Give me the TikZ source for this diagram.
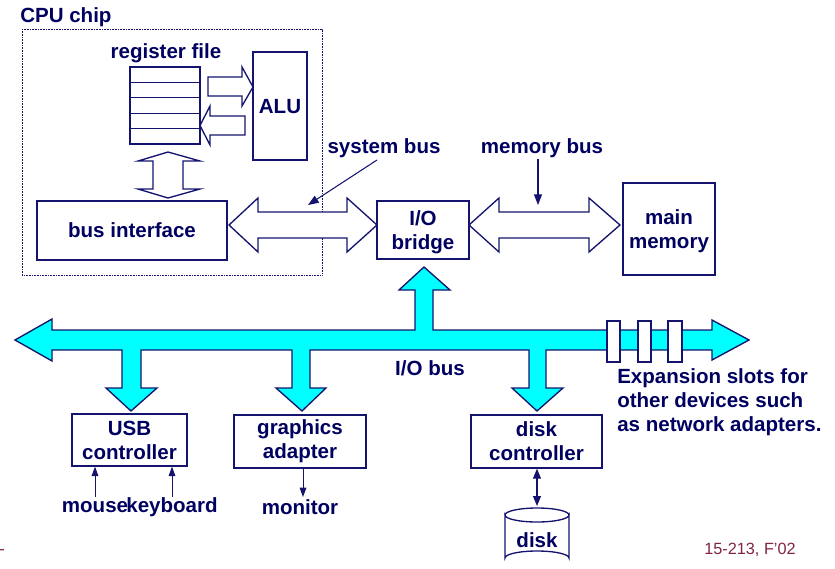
\documentclass[tikz,border=0pt]{standalone}
\usepackage{fontspec}
\setmainfont{Liberation Sans}
\usetikzlibrary{arrows.meta}
\definecolor{navy}{RGB}{0,0,96}
\definecolor{busline}{RGB}{20,20,110}
\definecolor{iocyan}{RGB}{0,255,255}
\definecolor{slidered}{RGB}{128,36,72}
\begin{document}
\begin{tikzpicture}[x=0.75pt,y=-0.75pt,
  lbl/.style={text=navy,font=\bfseries\fontsize{15.4}{18}\selectfont,inner sep=0pt,align=center},
  box/.style={draw=busline,line width=1pt,fill=white,text=navy,align=center,inner sep=0pt,font=\bfseries\fontsize{15.4}{18}\selectfont},
  fat/.style={draw=busline,line width=1pt,fill=white},
  iobus/.style={draw=busline,line width=1pt,fill=iocyan},
  slot/.style={draw=busline,line width=0.8pt,fill=white},
  pointer/.style={draw=busline,line width=0.8pt,-{Triangle[length=8pt,width=6pt]}},
  thinarrow/.style={draw=busline,line width=0.7pt,-{Triangle[length=7pt,width=5pt]}},
  footer/.style={text=slidered,font=\fontsize{12.2}{14}\selectfont,inner sep=0pt},
]
\useasboundingbox (0,0) rectangle (835,568);

% CPU chip boundary
\draw[busline,line width=0.5pt,dash pattern=on 0.6pt off 0.6pt] (22,29) rectangle (322,275);
\node[lbl,anchor=base west] (cpu) at (20,22) {CPU chip};

% register file
\node[lbl,anchor=base] (reglbl) at (166,58) {register file};
\draw[busline,line width=1pt,fill=white] (130,67) rectangle (200,144);
\foreach \yy in {82.4,97.8,113.2,128.6}
  \draw[busline,line width=1pt] (130,\yy) -- (200,\yy);
\coordinate (regfile) at (165,105.5);

% ALU
\node[box,minimum width=40.5pt,minimum height=81pt] (alu) at (280,106) {};
\node[lbl,anchor=base] (alutext) at (280,113) {ALU};

% fat arrows inside CPU
\draw[fat] (208,77) -- (242,77) -- (242,67) -- (253,87) -- (242,106) -- (242,96) -- (208,96) -- cycle;
\draw[fat] (245,116) -- (210,116) -- (210,106) -- (200,125.5) -- (210,145) -- (210,135) -- (245,135) -- cycle;
\draw[fat] (168,152) -- (200,161) -- (183,161) -- (183,189) -- (200,189) -- (168,198)
  -- (138,189) -- (153,189) -- (153,161) -- (138,161) -- cycle;

% bus interface
\node[box,minimum width=142.5pt,minimum height=44.25pt] (busif) at (132,230.5) {};
\node[lbl,anchor=base] (busiftext) at (132,237) {bus interface};

% system bus
\draw[fat] (229,225) -- (258,198) -- (258,212) -- (347,212) -- (347,198) -- (377,225)
  -- (347,252) -- (347,238) -- (258,238) -- (258,252) -- cycle;
% memory bus
\draw[fat] (469,225) -- (499,198) -- (499,212) -- (589,212) -- (589,198) -- (620,225)
  -- (589,252) -- (589,238) -- (499,238) -- (499,252) -- cycle;

% I/O bridge and main memory
\node[box,minimum width=69pt,minimum height=43.5pt] (bridge) at (423,230) {};
\node[lbl,anchor=base] (bridgetext) at (423,249) {I/O\\bridge};
\node[box,minimum width=69pt,minimum height=69pt] (mainmem) at (669,229) {};
\node[lbl,anchor=base] (memtext) at (669,248) {main\\memory};

% bus labels and pointers
\node[lbl,anchor=base] (sysbus) at (384,153) {system bus};
\node[lbl,anchor=base] (membus) at (542,153) {memory bus};
\coordinate (sbtail) at (377,160);
\coordinate (sbtip) at (308,205);
\coordinate (mbtail) at (538,159);
\coordinate (mbtip) at (538,205);
\draw[pointer] (sbtail) -- (sbtip);
\draw[pointer] (mbtail) -- (mbtip);

% I/O bus
\draw[iobus] (15,340) -- (52,319) -- (52,330) -- (415,330) -- (415,290) -- (399,290) -- (424,267)
  -- (450,290) -- (433,290) -- (433,330) -- (712,330) -- (712,320) -- (749,340) -- (712,360)
  -- (712,350) -- (546,350) -- (546,388) -- (563,388) -- (537,411) -- (512,388) -- (529,388)
  -- (529,350) -- (310,350) -- (310,388) -- (326,388) -- (302,411) -- (276,388) -- (292,388)
  -- (292,350) -- (141,350) -- (141,388) -- (157,388) -- (131,411) -- (106,388) -- (122,388)
  -- (122,350) -- (52,350) -- (52,361) -- cycle;
\draw[slot] (607,321) rectangle (620,362);
\draw[slot] (638,321) rectangle (651,362);
\draw[slot] (668,321) rectangle (682,362);
\node[lbl] (iobuslbl) at (430,368) {I/O bus};
\node[lbl,anchor=west,align=left] (expansion) at (617,402) {Expansion slots for\\other devices such\\as network adapters.};

% controllers
\node[box,minimum width=86.25pt,minimum height=39pt] (usb) at (129.5,440) {USB\\controller};
\node[box,minimum width=99pt,minimum height=39.75pt] (gfx) at (300,441.5) {graphics\\adapter};
\node[box,minimum width=98.25pt,minimum height=39.75pt] (diskc) at (536.5,441.5) {disk\\controller};

% peripherals
\node[lbl] (mouse) at (95,507) {mouse};
\node[lbl] (keyboard) at (172,507) {keyboard};
\node[lbl] (monitor) at (300,507) {monitor};
\draw[thinarrow] (95,497) -- (usb.south -| 95,0);
\draw[thinarrow] (172,497) -- (usb.south -| 172,0);
\draw[thinarrow] (gfx.south -| 303,0) -- (303,497);

% disk
\draw[busline,line width=1pt,fill=white] (505,515) -- (505,558) arc[start angle=180,end angle=360,x radius=32,y radius=7]
  -- (569,515) arc[start angle=0,end angle=180,x radius=32,y radius=7] -- cycle;
\draw[busline,line width=1pt] (505,515) arc[start angle=180,end angle=360,x radius=32,y radius=7];
\node[lbl] (disk) at (537,540) {disk};
\coordinate (disktop) at (537,506);
\draw[busline,line width=0.8pt,{Triangle[length=7.5pt,width=6pt]}-{Triangle[length=7.5pt,width=6pt]}] (diskc.south -| 537,0) -- (disktop);

% footer
\node[footer,anchor=base east] (dash) at (5,554) {-};
\node[footer] (course) at (750,550) {15-213, F'02};
\end{tikzpicture}
\end{document}
